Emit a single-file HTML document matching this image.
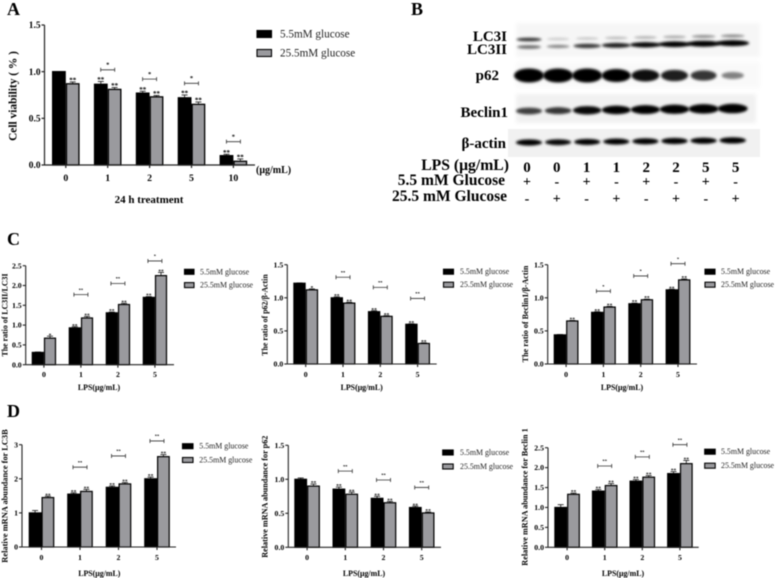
<!DOCTYPE html>
<html>
<head>
<meta charset="utf-8">
<title>Glucose and LPS figure</title>
<style>
html,body{margin:0;padding:0;background:#fff;}
svg{display:block;font-family:"Liberation Serif","Noto Serif CJK SC",serif;filter:blur(0.4px);}
.b{font-weight:bold;}
</style>
</head>
<body>
<svg id="figure" xmlns="http://www.w3.org/2000/svg" width="777" height="578" viewBox="0 0 777 578">
  <defs>
    <filter id="band-blur" x="-30%" y="-120%" width="160%" height="340%"><feGaussianBlur stdDeviation="1.2"></feGaussianBlur></filter>
    <filter id="bg-blur" x="-5%" y="-20%" width="110%" height="140%"><feGaussianBlur stdDeviation="2"></feGaussianBlur></filter>
  </defs>
  <rect width="777" height="578" fill="#ffffff"></rect>
  <text class="b" x="7" y="15" font-size="18">A</text>
  <text class="b" x="411" y="15" font-size="18">B</text>
  <text class="b" x="7" y="245" font-size="18">C</text>
  <text class="b" x="7" y="417" font-size="18">D</text>

  <g id="blot">
    <rect x="516" y="23" width="244" height="34" fill="#f6f6f6" filter="url(#bg-blur)"></rect>
    <rect x="516" y="62" width="244" height="26" fill="#f9f9f9" filter="url(#bg-blur)"></rect>
    <rect x="516" y="94" width="240" height="29" fill="#f1f1f1" filter="url(#bg-blur)"></rect>
    <rect x="508" y="129" width="252" height="28" fill="#f1f1f1"></rect>
  </g>
  <g class="b" font-size="15" text-anchor="end">
    <text x="507" y="41">LC3I</text>
    <text x="507" y="54">LC3II</text>
    <text x="499" y="80">p62</text>
    <text x="508" y="117">Beclin1</text>
    <text x="506" y="148">β-actin</text>
    <text x="509" y="170" font-size="15.7">LPS (μg/mL)</text>
    <text x="505" y="185" font-size="15.5">5.5 mM Glucose</text>
    <text x="507" y="201" font-size="15.5">25.5 mM Glucose</text>
  </g>
  <g id="blot-lanes"></g>
  <g id="charts"></g>
</svg>

<script>
// ---- Panel A data
const aCategories = ['0', '1', '2', '5', '10'];
const aLow = [1.0, 0.865, 0.77, 0.72, 0.10];
const aHigh = [0.87, 0.81, 0.73, 0.65, 0.04];
const aLowErr = [0, 0.03, 0.02, 0.03, 0.015];
const aHighErr = [0.02, 0.02, 0.015, 0.025, 0.025];
const aLowMarks = ['', '**', '**', '**', '**'];
const aHighMarks = ['**', '**', '**', '**', '**'];
const aBrackets = [null, 1.02, 0.92, 0.875, 0.25];
const aBracketMarks = ['', '*', '*', '*', '*'];
const aTicks = [0, 0.5, 1.0, 1.5];
const aTickLabels = ['0.0', '0.5', '1.0', '1.5'];

// ---- Panel C data
const c1Categories = ['0', '1', '2', '5'];
const c1Low = [0.31, 0.93, 1.31, 1.70];
const c1High = [0.67, 1.18, 1.52, 2.25];
const c1LowErr = [0.01, 0.03, 0.02, 0.02];
const c1HighErr = [0.05, 0.04, 0.03, 0.08];
const c1LowMarks = ['', '**', '**', '**'];
const c1HighMarks = ['*', '**', '**', '**'];
const c1Brackets = [null, 1.77, 2.05, 2.62];
const c1BracketMarks = ['', '**', '**', '*'];
const c1Ticks = [0, 0.5, 1.0, 1.5, 2.0, 2.5];
const c1TickLabels = ['0.0', '0.5', '1.0', '1.5', '2.0', '2.5'];

const c2Categories = ['0', '1', '2', '5'];
const c2Low = [1.22, 1.00, 0.79, 0.60];
const c2High = [1.12, 0.92, 0.72, 0.31];
const c2LowErr = [0.005, 0.015, 0.015, 0.008];
const c2HighErr = [0.015, 0.012, 0.01, 0.01];
const c2LowMarks = ['', '**', '**', '**'];
const c2HighMarks = ['*', '**', '**', '**'];
const c2Brackets = [null, 1.31, 1.157, 0.99];
const c2BracketMarks = ['', '**', '**', '**'];
const c2Ticks = [0, 0.5, 1.0, 1.5];
const c2TickLabels = ['0.0', '0.5', '1.0', '1.5'];

const c3Categories = ['0', '1', '2', '5'];
const c3Low = [0.44, 0.78, 0.91, 1.12];
const c3High = [0.65, 0.86, 0.97, 1.27];
const c3LowErr = [0.005, 0.01, 0.01, 0.01];
const c3HighErr = [0.008, 0.01, 0.01, 0.015];
const c3LowMarks = ['', '**', '**', '**'];
const c3HighMarks = ['**', '**', '**', '**'];
const c3Brackets = [null, 1.10, 1.33, 1.515];
const c3BracketMarks = ['', '*', '*', '*'];
const c3Ticks = [0, 0.5, 1.0, 1.5];
const c3TickLabels = ['0.0', '0.5', '1.0', '1.5'];

// ---- Panel D data
const d1Categories = ['0', '1', '2', '5'];
const d1Low = [1.0, 1.55, 1.75, 2.0];
const d1High = [1.45, 1.63, 1.85, 2.65];
const d1LowErr = [0.07, 0.04, 0.04, 0.05];
const d1HighErr = [0.04, 0.06, 0.04, 0.06];
const d1LowMarks = ['', '**', '**', '**'];
const d1HighMarks = ['**', '**', '**', '**'];
const d1Brackets = [null, 2.34, 2.67, 3.11];
const d1BracketMarks = ['', '**', '**', '**'];
const d1Ticks = [0, 1, 2, 3];
const d1TickLabels = ['0', '1', '2', '3'];

const d2Categories = ['0', '1', '2', '5'];
const d2Low = [1.0, 0.855, 0.72, 0.585];
const d2High = [0.90, 0.78, 0.655, 0.505];
const d2LowErr = [0.02, 0.03, 0.03, 0.02];
const d2HighErr = [0.03, 0.03, 0.02, 0.015];
const d2LowMarks = ['', '**', '**', '**'];
const d2HighMarks = ['**', '**', '**', '**'];
const d2Brackets = [null, 1.12, 0.99, 0.88];
const d2BracketMarks = ['', '**', '**', '**'];
const d2Ticks = [0, 0.5, 1.0, 1.5];
const d2TickLabels = ['0.0', '0.5', '1.0', '1.5'];

const d3Categories = ['0', '1', '2', '5'];
const d3Low = [1.0, 1.41, 1.66, 1.85];
const d3High = [1.33, 1.55, 1.76, 2.10];
const d3LowErr = [0.07, 0.04, 0.04, 0.05];
const d3HighErr = [0.03, 0.05, 0.04, 0.08];
const d3LowMarks = ['', '**', '**', '**'];
const d3HighMarks = ['**', '**', '**', '**'];
const d3Brackets = [null, 2.04, 2.27, 2.575];
const d3BracketMarks = ['', '**', '**', '**'];
const d3Ticks = [0, 0.5, 1.0, 1.5, 2.0, 2.5];
const d3TickLabels = ['0.0', '0.5', '1.0', '1.5', '2.0', '2.5'];

// ---- Blot data (relative band intensity per lane)
const blotLps = ['0', '0', '1', '1', '2', '2', '5', '5'];
const blotLow = ['+', '-', '+', '-', '+', '-', '+', '-'];
const blotHigh = ['-', '+', '-', '+', '-', '+', '-', '+'];
const bandLc3i = [0.68, 0.06, 0.08, 0.12, 0.16, 0.20, 0.30, 0.32];
const bandLc3ii = [0.45, 0.35, 0.65, 0.75, 0.85, 0.95, 1.0, 1.0];
const bandP62 = [1.0, 1.0, 1.0, 0.92, 0.82, 0.76, 0.66, 0.36];
const bandBeclin = [0.62, 0.66, 0.85, 0.88, 0.92, 0.96, 1.0, 1.0];
const bandActin = [0.90, 0.85, 0.88, 0.88, 0.90, 0.92, 0.92, 0.95];

const legendLabels = ['5.5mM glucose', '25.5mM glucose'];

const NS = 'http://www.w3.org/2000/svg';
function make(parent, tag, attrs, text) {
  const el = document.createElementNS(NS, tag);
  for (const k in attrs) el.setAttribute(k, attrs[k]);
  if (text !== undefined) el.textContent = text;
  parent.appendChild(el);
  return el;
}

function drawPanel(p) {
  const g = make(document.getElementById('charts'), 'g', {});
  
  
  const y = v => p.y0 - v / p.yMax * (p.y0 - p.yTop);
  const barX = i => p.barX0 + i * p.spacing;
  const centerX = i => barX(i) + p.barW;

  // bars, error bars, significance marks
  p.categories.forEach((cat, i) => {
    const x1 = barX(i);
    const x2 = x1 + p.barW;
    const w = p.barW - p.sw;
    [[x1, p.low[i], p.lowErr[i], p.lowMarks[i], '#000000'], [x2, p.high[i], p.highErr[i], p.highMarks[i], '#9a9a9e']].forEach((s, k) => {
      const cx = s[0] + p.barW / 2;
      const errTop = y(s[1] + s[2]);
      if (s[2] > 0) {
        const stem = make(g, 'line', {x1: cx, x2: cx, y1: y(s[1]), y2: errTop, stroke: '#111', 'stroke-width': 0.8});
        
        
        const cap = make(g, 'line', {x1: cx - 3, x2: cx + 3, y1: errTop, y2: errTop, stroke: '#111', 'stroke-width': 0.8});
        
        
      }
      const bar = make(g, 'rect', {x: s[0] + p.sw / 2, y: y(s[1]), width: w, height: p.y0 - y(s[1]), fill: s[4], stroke: '#000', 'stroke-width': p.sw});
      
      
      if (s[3]) {
        const mark = make(g, 'text', {x: cx, y: errTop + 0.6, 'text-anchor': 'middle', 'font-size': p.markSize, class: 'b'}, s[3]);
        
        
      }
    });
    const tick = make(g, 'line', {x1: centerX(i), x2: centerX(i), y1: p.y0, y2: p.y0 + 3, stroke: '#222', 'stroke-width': p.axisW});
    
    
    const lab = make(g, 'text', {x: centerX(i), y: p.catY, 'text-anchor': 'middle', 'font-size': p.catSize, class: 'b'}, cat);
    
    

    if (p.brackets[i] !== null) {
      const by = y(p.brackets[i]);
      const bx = centerX(i);
      const hw = p.bracketHalf;
      const br = make(g, 'path', {d: 'M' + (bx - hw) + ' ' + (by - 2) + 'V' + (by + 2) + 'M' + (bx - hw) + ' ' + by + 'H' + (bx + hw) + 'M' + (bx + hw) + ' ' + (by - 2) + 'V' + (by + 2), fill: 'none', stroke: '#333', 'stroke-width': 0.8});
      
      
      const bm = make(g, 'text', {x: bx, y: by - 3.3, 'text-anchor': 'middle', 'font-size': p.bracketMarkSize, class: 'b'}, p.bracketMarks[i]);
      
      
    }
  });

  // axes
  const yAxis = make(g, 'line', {x1: p.x0, x2: p.x0, y1: p.yTop, y2: p.y0, stroke: '#222', 'stroke-width': p.axisW});
  
  
  const xAxis = make(g, 'line', {x1: p.x0, x2: p.xEnd, y1: p.y0, y2: p.y0, stroke: '#222', 'stroke-width': p.axisW});
  
  
  p.ticks.forEach((t, i) => {
    const tk = make(g, 'line', {x1: p.x0 - 3, x2: p.x0, y1: y(t), y2: y(t), stroke: '#222', 'stroke-width': p.axisW});
    
    
    const tl = make(g, 'text', {x: p.x0 - 4, y: y(t) + p.tickSize * 0.33, 'text-anchor': 'end', 'font-size': p.tickSize, class: 'b'}, p.tickLabels[i]);
    
    
  });

  // titles
  const yt = make(g, 'text', {transform: 'translate(' + p.yTitleX + ' ' + p.yTitleY + ') rotate(-90)', 'text-anchor': 'middle', 'font-size': p.yTitleSize, class: 'b'}, p.yTitle);
  
  
  const xt = make(g, 'text', {x: p.xTitleX, y: p.xTitleY, 'text-anchor': 'middle', 'font-size': p.xTitleSize, class: 'b'}, p.xTitle);
  
  

  // legend
  legendLabels.forEach((label, i) => {
    const base = p.legendY[i];
    const sw = make(g, 'rect', {x: p.legendX, y: base - p.swatchH, width: p.swatchW, height: p.swatchH, fill: i === 0 ? '#000' : '#9a9a9e', stroke: '#000', 'stroke-width': 1.1});
    
    
    const lt = make(g, 'text', {x: p.legendTextX, y: base, 'font-size': p.legendSize, fill: '#222'}, label);
    
    
  });
  return g;
}

const small = {sw: 1.2, axisW: 1.1, tickSize: 7.8, catSize: 7.8, markSize: 5.6, bracketMarkSize: 4.6, yTitleSize: 7.9, xTitleSize: 7.9, legendSize: 7.9, swatchH: 5, bracketHalf: 7, xTitle: 'LPS(μg/mL)'};

const panelA = drawPanel(Object.assign({}, small, {
  name: 'chart-a-cell-viability', categories: aCategories, low: aLow, high: aHigh, lowErr: aLowErr, highErr: aHighErr,
  lowMarks: aLowMarks, highMarks: aHighMarks, brackets: aBrackets, bracketMarks: aBracketMarks, ticks: aTicks, tickLabels: aTickLabels,
  x0: 44.5, xEnd: 255, y0: 165, yTop: 25, yMax: 1.5, barX0: 52, spacing: 41.9, barW: 13.8, sw: 1.3, axisW: 1.2,
  catY: 181, tickSize: 9.4, catSize: 9.8, markSize: 7, bracketMarkSize: 6.5, bracketHalf: 7, yTitle: 'Cell viability ( % )', yTitleX: 16.5, yTitleY: 96, yTitleSize: 11.4,
  xTitle: '24 h treatment', xTitleX: 149, xTitleY: 203, xTitleSize: 11,
  legendX: 257, legendTextX: 280, legendY: [37.5, 56.5], swatchW: 14.5, swatchH: 7, legendSize: 11.2
}));
const unitLabel = make(panelA, 'text', {x: 256, y: 173, 'font-size': 10, class: 'b'}, '(μg/mL)');



drawPanel(Object.assign({}, small, {
  name: 'chart-c-lc3-ratio', categories: c1Categories, low: c1Low, high: c1High, lowErr: c1LowErr, highErr: c1HighErr,
  lowMarks: c1LowMarks, highMarks: c1HighMarks, brackets: c1Brackets, bracketMarks: c1BracketMarks, ticks: c1Ticks, tickLabels: c1TickLabels,
  x0: 25.7, xEnd: 174, y0: 364.7, yTop: 265.7, yMax: 2.5, barX0: 31.7, spacing: 37, barW: 12.2,
  catY: 377, yTitle: 'The ratio of LC3II/LC3I', yTitleX: 7.5, yTitleY: 315, xTitle: 'LPS(μg/mL)', xTitleX: 99, xTitleY: 390,
  legendX: 184.5, legendTextX: 200, legendY: [274.3, 287.6], swatchW: 9.5
}));
drawPanel(Object.assign({}, small, {
  name: 'chart-c-p62-ratio', categories: c2Categories, low: c2Low, high: c2High, lowErr: c2LowErr, highErr: c2HighErr,
  lowMarks: c2LowMarks, highMarks: c2HighMarks, brackets: c2Brackets, bracketMarks: c2BracketMarks, ticks: c2Ticks, tickLabels: c2TickLabels,
  x0: 287.3, xEnd: 436.7, y0: 364, yTop: 264.7, yMax: 1.5, barX0: 293.3, spacing: 37.3, barW: 12.4,
  catY: 377, yTitle: 'The ratio of p62/β-Actin', yTitleX: 267.5, yTitleY: 315, xTitle: 'LPS(μg/mL)', xTitleX: 361.7, xTitleY: 390,
  legendX: 443.5, legendTextX: 460, legendY: [274.2, 287.2], swatchW: 10
}));
drawPanel(Object.assign({}, small, {
  name: 'chart-c-beclin-ratio', categories: c3Categories, low: c3Low, high: c3High, lowErr: c3LowErr, highErr: c3HighErr,
  lowMarks: c3LowMarks, highMarks: c3HighMarks, brackets: c3Brackets, bracketMarks: c3BracketMarks, ticks: c3Ticks, tickLabels: c3TickLabels,
  x0: 547.7, xEnd: 697, y0: 364, yTop: 264.7, yMax: 1.5, barX0: 553.7, spacing: 37.3, barW: 12.4,
  catY: 377, yTitle: 'The ratio of Beclin1/β-Actin', yTitleX: 528, yTitleY: 314, yTitleSize: 8.1, xTitle: 'LPS(μg/mL)', xTitleX: 622, xTitleY: 390,
  legendX: 705, legendTextX: 721, legendY: [274.2, 287.2], swatchW: 10
}));
drawPanel(Object.assign({}, small, {
  name: 'chart-d-lc3b-mrna', categories: d1Categories, low: d1Low, high: d1High, lowErr: d1LowErr, highErr: d1HighErr,
  lowMarks: d1LowMarks, highMarks: d1HighMarks, brackets: d1Brackets, bracketMarks: d1BracketMarks, ticks: d1Ticks, tickLabels: d1TickLabels,
  x0: 22, xEnd: 176, y0: 547, yTop: 444.7, yMax: 3, barX0: 28.7, spacing: 38.5, barW: 12.8,
  catY: 560, yTitle: 'Relative mRNA abundance for LC3B', yTitleX: 7.5, yTitleY: 496, yTitleSize: 8.4, xTitle: 'LPS(μg/mL)', xTitleX: 99.3, xTitleY: 576,
  legendX: 182.5, legendTextX: 199.3, legendY: [448.7, 462.5], swatchW: 10.5
}));
drawPanel(Object.assign({}, small, {
  name: 'chart-d-p62-mrna', categories: d2Categories, low: d2Low, high: d2High, lowErr: d2LowErr, highErr: d2HighErr,
  lowMarks: d2LowMarks, highMarks: d2HighMarks, brackets: d2Brackets, bracketMarks: d2BracketMarks, ticks: d2Ticks, tickLabels: d2TickLabels,
  x0: 288.3, xEnd: 441, y0: 547.3, yTop: 445.3, yMax: 1.5, barX0: 294.3, spacing: 38.2, barW: 12.8,
  catY: 560, yTitle: 'Relative mRNA abundance for p62', yTitleX: 267.5, yTitleY: 496.7, yTitleSize: 8.2, xTitle: 'LPS(μg/mL)', xTitleX: 364, xTitleY: 576,
  legendX: 442.7, legendTextX: 460, legendY: [455, 469], swatchW: 10.5
}));
drawPanel(Object.assign({}, small, {
  name: 'chart-d-beclin-mrna', categories: d3Categories, low: d3Low, high: d3High, lowErr: d3LowErr, highErr: d3HighErr,
  lowMarks: d3LowMarks, highMarks: d3HighMarks, brackets: d3Brackets, bracketMarks: d3BracketMarks, ticks: d3Ticks, tickLabels: d3TickLabels,
  x0: 548, xEnd: 698.7, y0: 547.3, yTop: 447.7, yMax: 2.5, barX0: 554.3, spacing: 37.6, barW: 12.8,
  catY: 560, yTitle: 'Relative mRNA abundance for Beclin 1', yTitleX: 527.5, yTitleY: 497, yTitleSize: 8.2, xTitle: 'LPS(μg/mL)', xTitleX: 623, xTitleY: 576,
  legendX: 704.7, legendTextX: 721, legendY: [454.2, 468.2], swatchW: 10.5
}));

// ---- Blot bands and lane labels
const laneX = i => 529 + i * 29.1;
const blot = document.getElementById('blot');
function drawRow(values, centerY, rise, maxH, maxW, minW, minH) {
  values.forEach((v, i) => {
    const w = minW + (maxW - minW) * v;
    const h = minH + (maxH - minH) * v;
    const band = make(blot, 'ellipse', {cx: laneX(i), cy: centerY - rise * i, rx: w / 2, ry: h / 2, fill: '#000', opacity: Math.min(1, 0.12 + v), filter: 'url(#band-blur)'});
    
    
  });
}
drawRow(bandLc3i, 39.5, 0.5, 4, 27, 22, 2.5);
drawRow(bandLc3ii, 47, 0.55, 6, 33, 17, 1.5);
drawRow(bandP62, 75.5, 0, 14, 30, 18, 3);
drawRow(bandBeclin, 111, 0.35, 9.5, 30, 20, 2);
drawRow(bandActin, 142.5, 0.3, 6.5, 27, 20, 3);

const lanes = document.getElementById('blot-lanes');
blotLps.forEach((val, i) => {
  const lx = 527 + i * 29.8;
  const a = make(lanes, 'text', {x: lx, y: 172, 'text-anchor': 'middle', 'font-size': 15, class: 'b'}, val);
  
  
  const b = make(lanes, 'text', {x: lx, y: 186, 'text-anchor': 'middle', 'font-size': 14, class: 'b'}, blotLow[i]);
  
  
  const c = make(lanes, 'text', {x: lx, y: 203, 'text-anchor': 'middle', 'font-size': 14, class: 'b'}, blotHigh[i]);
  
  
});
</script>
</body>
</html>
